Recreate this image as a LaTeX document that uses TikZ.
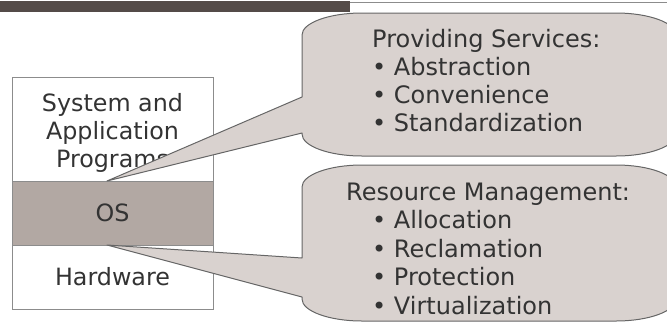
\documentclass[tikz,border=0pt]{standalone}
\usepackage{fontspec}
\setmainfont{DejaVu Sans}
\definecolor{barx}{HTML}{544B48}
\definecolor{osx}{HTML}{B2A8A3}
\definecolor{blx}{HTML}{D9D2CF}
\definecolor{txx}{HTML}{333333}
\colorlet{lnx}{black!60}
\colorlet{rlx}{black!45}
\tikzset{
    layer/.style={draw=rlx,line width=1pt,minimum width=201pt,inner sep=0pt,font=\fontsize{23.8}{28}\selectfont,text=txx},
    stack/.style={inner sep=0pt,align=center,font=\fontsize{23.8}{28}\selectfont,text=txx},
    bubble/.style={draw=lnx,fill=blx,line width=1pt,line join=round},
    item/.style={inner sep=0pt,anchor=base west,font=\fontsize{24}{28.5}\selectfont,text=txx}
}

\begin{document}
\begin{tikzpicture}[x=1pt,y=-1pt]
    \useasboundingbox (0,0) rectangle (667,322);
    \clip (0,0) rectangle (667,322);
    % title bar
    \fill [barx] (0,1) rectangle (350,12);
    \draw [rlx,line width=0.8pt] (350,2) -- (667,2);
    % layer stack
    \node [layer,minimum height=104pt] (apps) at (112.5,129) {};
    \node [layer,fill=osx,minimum height=64pt] (os) at (112.5,213) {OS};
    \node [layer,minimum height=64pt] (hw) at (112.5,277) {Hardware};
    \node [stack] (appstext) at (112.5,132.8) {System and\\Application\\Programs};
    \coordinate (svctip) at (107,181);
    \coordinate (restip) at (107,245);
    % callouts
    \draw [bubble] (302,97)
        -- (302,35) .. controls (302,22.9) and (328.9,13) .. (362,13)
        -- (616,13) .. controls (649.1,13) and (676,22.9) .. (676,35)
        -- (676,134) .. controls (676,146.1) and (649.1,156) .. (616,156)
        -- (362,156) .. controls (328.9,156) and (302,146.1) .. (302,134)
        -- (302,133) -- (svctip) -- cycle;
    \draw [bubble] (302,258)
        -- (302,187) .. controls (302,174.9) and (328.9,165) .. (362,165)
        -- (616,165) .. controls (649.1,165) and (676,174.9) .. (676,187)
        -- (676,299) .. controls (676,311.1) and (649.1,321) .. (616,321)
        -- (362,321) .. controls (328.9,321) and (302,311.1) .. (302,299)
        -- (302,297) -- (restip) -- cycle;
    % callout texts
    \node [item] (svchead) at (372,47) {Providing Services:};
    \foreach \t [count=\i] in {Abstraction,Convenience,Standardization} {
        \node [item] (svc\i) at (372,47+28.3*\i) {• \t};
    }
    \node [item] (reshead) at (346,200) {Resource Management:};
    \foreach \t [count=\i] in {Allocation,Reclamation,Protection,Virtualization} {
        \node [item] (res\i) at (372,200+28.5*\i) {• \t};
    }
\end{tikzpicture}
\end{document}
